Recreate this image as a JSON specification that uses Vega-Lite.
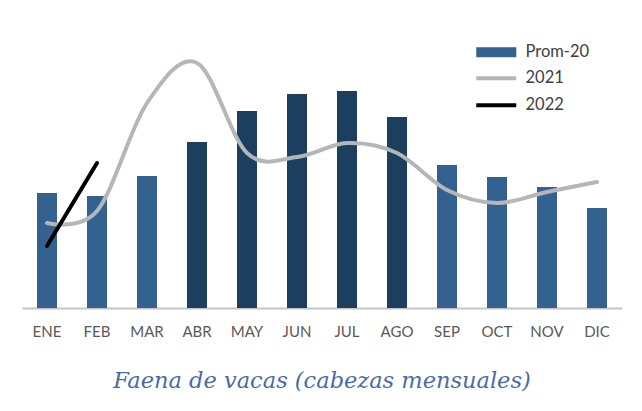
{
  "$schema": "https://vega.github.io/schema/vega-lite/v6.json",
  "autosize": {"type": "none"},
  "padding": {"left": 22, "top": 28, "right": 20, "bottom": 103},
  "width": 600,
  "height": 280,
  "background": "white",
  "title": {
    "text": "Faena de vacas (cabezas mensuales)",
    "orient": "bottom",
    "anchor": "middle",
    "font": "DejaVu Serif",
    "fontStyle": "italic",
    "fontWeight": "normal",
    "fontSize": 22.5,
    "color": "#4a6aaa",
    "offset": 31
  },
  "data": {
    "values": [
      {"mes": "ENE", "prom": 115, "a2021": 85, "a2022": 62},
      {"mes": "FEB", "prom": 112, "a2021": 97, "a2022": 145},
      {"mes": "MAR", "prom": 132, "a2021": 205, "a2022": null},
      {"mes": "ABR", "prom": 166, "a2021": 245, "a2022": null},
      {"mes": "MAY", "prom": 197, "a2021": 155, "a2022": null},
      {"mes": "JUN", "prom": 214, "a2021": 151, "a2022": null},
      {"mes": "JUL", "prom": 217, "a2021": 165, "a2022": null},
      {"mes": "AGO", "prom": 191, "a2021": 155, "a2022": null},
      {"mes": "SEP", "prom": 143, "a2021": 118, "a2022": null},
      {"mes": "OCT", "prom": 131, "a2021": 105, "a2022": null},
      {"mes": "NOV", "prom": 121, "a2021": 116, "a2022": null},
      {"mes": "DIC", "prom": 100, "a2021": 126, "a2022": null}
    ]
  },
  "encoding": {
    "x": {
      "field": "mes",
      "type": "ordinal",
      "sort": null,
      "scale": {"paddingInner": 0.6, "paddingOuter": 0.3},
      "axis": {
        "title": null,
        "labelAngle": 0,
        "ticks": false,
        "domainColor": "#c4c4c4",
        "domainWidth": 2,
        "labelFont": "Lato",
        "labelFontSize": 15,
        "labelColor": "#595959",
        "labelPadding": 16
      }
    }
  },
  "layer": [
    {
      "mark": {"type": "bar"},
      "encoding": {
        "y": {
          "field": "prom",
          "type": "quantitative",
          "scale": {"domain": [0, 280], "nice": false},
          "axis": null
        },
        "fill": {
          "datum": "Prom-20",
          "type": "nominal",
          "scale": {"domain": ["Prom-20"], "range": ["#336190"]},
          "legend": {
            "title": null,
            "orient": "none",
            "legendX": 466,
            "legendY": 16,
            "symbolType": "M-4,-1H4V1H-4Z",
            "symbolSize": 100,
            "symbolOpacity": 1,
            "symbolStrokeWidth": 0,
            "labelOffset": 21,
            "labelFont": "Lato",
            "labelFontSize": 16.5,
            "labelColor": "#404040"
          },
          "condition": {
            "test": "indexof(['ABR','MAY','JUN','JUL','AGO'], datum.mes) >= 0",
            "value": "#1c3f5f"
          }
        }
      }
    },
    {
      "mark": {"type": "line", "interpolate": "cardinal", "strokeWidth": 4, "strokeCap": "round"},
      "encoding": {
        "y": {"field": "a2021", "type": "quantitative"},
        "stroke": {
          "datum": "2021",
          "type": "nominal",
          "scale": {"domain": ["2021", "2022"], "range": ["#b4b7b7", "#000000"]},
          "legend": {
            "title": null,
            "orient": "none",
            "legendX": 466,
            "legendY": 42,
            "symbolType": "M-4,0H4",
            "symbolSize": 100,
            "symbolStrokeWidth": 4,
            "labelOffset": 21,
            "rowPadding": 10,
            "labelFont": "Lato",
            "labelFontSize": 16.5,
            "labelColor": "#404040"
          }
        }
      }
    },
    {
      "mark": {"type": "line", "strokeWidth": 4, "strokeCap": "round"},
      "encoding": {
        "y": {"field": "a2022", "type": "quantitative"},
        "stroke": {"datum": "2022", "type": "nominal"}
      }
    }
  ],
  "config": {
    "view": {"stroke": null},
    "axis": {"grid": false}
  }
}
